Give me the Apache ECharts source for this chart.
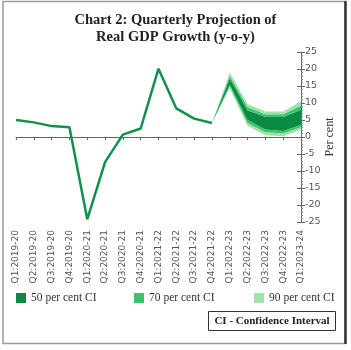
<!DOCTYPE html>
<html><head><meta charset="utf-8">
<script src="https://cdn.jsdelivr.net/npm/echarts@6/dist/echarts.min.js"></script>
<style>html,body{margin:0;padding:0;background:#fff}#c{width:351px;height:350px}</style>
</head><body><div id="c"></div>
<script>
const categories = ['Q1:2019-20','Q2:2019-20','Q3:2019-20','Q4:2019-20','Q1:2020-21','Q2:2020-21','Q3:2020-21','Q4:2020-21','Q1:2021-22','Q2:2021-22','Q3:2021-22','Q4:2021-22','Q1:2022-23','Q2:2022-23','Q3:2022-23','Q4:2022-23','Q1:2023-24'];
const actual = [5.0, 4.3, 3.2, 2.9, -24.2, -7.4, 0.7, 2.5, 20.1, 8.4, 5.4, 4.1, null, null, null, null, null];
const lower90 = [null,null,null,null,null,null,null,null,null,null,null, 4.1, 14.3, 3.2, 0.5, 0.2, 2.1];
const lower70 = [null,null,null,null,null,null,null,null,null,null,null, 4.1, 14.9, 4.1, 1.4, 1.0, 2.9];
const lower50 = [null,null,null,null,null,null,null,null,null,null,null, 4.1, 15.4, 5.0, 2.2, 1.8, 3.6];
const upper50 = [null,null,null,null,null,null,null,null,null,null,null, 4.1, 17.2, 7.9, 5.9, 5.9, 8.0];
const upper70 = [null,null,null,null,null,null,null,null,null,null,null, 4.1, 18.0, 8.8, 6.7, 6.7, 9.3];
const upper90 = [null,null,null,null,null,null,null,null,null,null,null, 4.1, 18.9, 9.7, 7.5, 7.5, 10.5];
const yTicks = [-25, 25, 5];

const C50 = '#0b8a43', C70 = '#3dc46b', C90 = '#9fe3a8';
function diff(a, b) { return a.map((v, i) => (v == null || b[i] == null) ? '-' : +(v - b[i]).toFixed(3)); }
function base(a) { return a.map(v => v == null ? '-' : v); }
function band(name, data, color) {
  return { name: name, type: 'line', stack: 'fan', data: data, symbol: 'none', silent: true,
    lineStyle: { width: 0, opacity: 0 }, areaStyle: { color: color, opacity: 1 }, itemStyle: { color: color } };
}

const chart = echarts.init(document.getElementById('c'));
const serif = '"Liberation Serif", "DejaVu Serif", serif';
chart.setOption({
  animation: false,
  title: {
    text: 'Chart 2: Quarterly Projection of\nReal GDP Growth (y-o-y)',
    left: 'center', top: 12, padding: 0,
    textStyle: { fontFamily: serif, fontWeight: 'bold', fontSize: 14.5, lineHeight: 17, color: '#222' }
  },
  grid: { left: 16, right: 50, top: 52, height: 170 },
  legend: [
    { data: ['50 per cent CI'], left: 16, top: 292 },
    { data: ['70 per cent CI'], left: 134, top: 292 },
    { data: ['90 per cent CI'], left: 254, top: 292 }
  ].map(l => Object.assign(l, { icon: 'rect', itemWidth: 10, itemHeight: 10, itemGap: 5, padding: 0,
      textStyle: { fontFamily: serif, fontSize: 11.5, color: '#333' } })),
  xAxis: [
    { type: 'category', data: categories, boundaryGap: false, position: 'bottom',
      axisLine: { show: false, onZero: false }, axisTick: { show: false },
      axisLabel: { rotate: 90, interval: 0, margin: 8, fontFamily: '"DejaVu Sans", Verdana, sans-serif', fontSize: 9, color: '#555' },
      splitLine: { show: false } },
    { type: 'category', data: categories, boundaryGap: false, position: 'bottom',
      axisLine: { show: true, onZero: true, lineStyle: { color: '#666', width: 1 } },
      axisTick: { show: true, inside: false, length: 3, interval: 0, lineStyle: { color: '#666' } },
      axisLabel: { show: false }, splitLine: { show: false } }
  ],
  yAxis: [
    { type: 'value', position: 'right', min: yTicks[0], max: yTicks[1], interval: yTicks[2],
      name: 'Per cent', nameLocation: 'middle', nameGap: 23, nameRotate: 90, nameMoveOverlap: false,
      nameTextStyle: { fontFamily: serif, fontSize: 12, color: '#333' },
      axisLine: { show: true, lineStyle: { color: '#666' } },
      axisTick: { show: true, length: 4, lineStyle: { color: '#666' } },
      minorTick: { show: true, splitNumber: 5, length: 2, lineStyle: { color: '#888' } },
      axisLabel: { margin: 4, fontFamily: '"DejaVu Sans", Verdana, sans-serif', fontSize: 9.5, color: '#555' },
      splitLine: { show: false } },
    { type: 'value', position: 'right', min: yTicks[0], max: yTicks[1], interval: yTicks[2],
      axisLine: { show: false }, axisTick: { show: true, inside: true, length: 4, lineStyle: { color: '#666' } },
      axisLabel: { show: false }, splitLine: { show: false } }
  ],
  series: [
    { name: 'base', type: 'line', stack: 'fan', data: base(lower90), symbol: 'none', silent: true, lineStyle: { width: 0, opacity: 0 } },
    band('90 per cent CI', diff(lower70, lower90), C90),
    band('70 per cent CI', diff(lower50, lower70), C70),
    band('50 per cent CI', diff(upper50, lower50), C50),
    band('70 per cent CI', diff(upper70, upper50), C70),
    band('90 per cent CI', diff(upper90, upper70), C90),
    { name: 'Actual', type: 'line', data: actual, symbol: 'none', xAxisIndex: 1,
      lineStyle: { color: '#13904b', width: 2.5 }, itemStyle: { color: '#13904b' } }
  ],
  graphic: [
    { type: 'rect', shape: { x: 3, y: 1.5, width: 342, height: 342 }, style: { fill: null, stroke: '#9a9a9a', lineWidth: 1.5 } },
    { type: 'line', shape: { x1: 345.5, y1: 1, x2: 345.5, y2: 344 }, style: { stroke: '#333', lineWidth: 2.5 } },
    { type: 'rect', shape: { x: 208.5, y: 311.5, width: 127, height: 19 }, style: { fill: '#fff', stroke: '#333', lineWidth: 1 } },
    { type: 'text', x: 272, y: 321.5, style: { text: 'CI - Confidence Interval', fontFamily: serif, fontWeight: 'bold', fontSize: 11, fill: '#222', align: 'center', verticalAlign: 'middle' } }
  ]
});
</script></body></html>
